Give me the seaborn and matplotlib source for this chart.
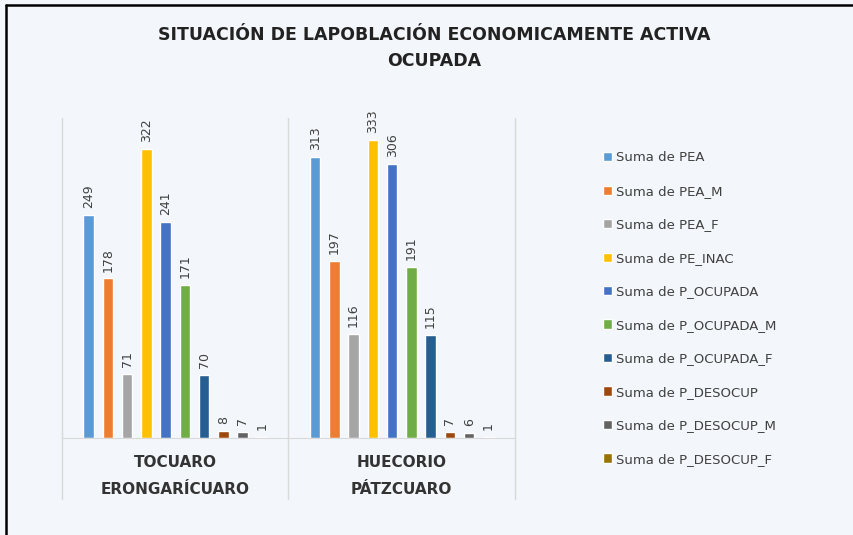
import pandas as pd
import numpy as np
import matplotlib as mpl
mpl.use('Agg')
import matplotlib.pyplot as plt
import seaborn as sns
from matplotlib.lines import Line2D

# datos
localidades = ['TOCUARO\nERONGARÍCUARO', 'HUECORIO\nPÁTZCUARO']
series = ['Suma de PEA', 'Suma de PEA_M', 'Suma de PEA_F', 'Suma de PE_INAC',
          'Suma de P_OCUPADA', 'Suma de P_OCUPADA_M', 'Suma de P_OCUPADA_F',
          'Suma de P_DESOCUP', 'Suma de P_DESOCUP_M', 'Suma de P_DESOCUP_F']
tocuaro = [249, 178, 71, 322, 241, 171, 70, 8, 7, 1]
huecorio = [313, 197, 116, 333, 306, 191, 115, 7, 6, 1]
colores = ['#5B9BD5', '#ED7D31', '#A5A5A5', '#FFC000', '#4472C4',
           '#70AD47', '#255E91', '#9E480E', '#636363', '#997300']

df = pd.DataFrame({
    'localidad': [localidades[0]] * len(series) + [localidades[1]] * len(series),
    'serie': series + series,
    'valor': tocuaro + huecorio,
})

fondo = '#f3f6fa'
sns.set_style('white')
plt.rcParams['font.family'] = ['DejaVu Sans']

fig = plt.figure(figsize=(8.54, 5.35), dpi=100)
fig.patch.set_facecolor(fondo)
ax = fig.add_axes([62 / 854, 1 - 438 / 535, (515 - 62) / 854, 320 / 535])
ax.set_facecolor(fondo)

sns.barplot(data=df, x='localidad', y='valor', hue='serie', palette=colores,
            order=localidades, hue_order=series, width=0.85, gap=0.45,
            saturation=1, ax=ax)

for c in ax.containers:
    ax.bar_label(c, fmt='{:.0f}', rotation=90, padding=5, fontsize=9,
                 color='#404040')

ax.set_ylim(0, 357)
ax.set_xlim(-0.5, 1.5)
ax.set_yticks([])
ax.set_xlabel('')
ax.set_ylabel('')
for s in ['top', 'left', 'right']:
    ax.spines[s].set_visible(False)
ax.spines['bottom'].set_color('#d9d9d9')
ax.tick_params(axis='x', length=0, pad=12)
ax.set_xticks([0, 1])
ax.set_xticklabels(localidades, fontsize=11, fontweight='bold',
                   color='#333333', linespacing=2.0)

# separadores de categorias
for xv in [-0.5, 0.5, 1.5]:
    ax.plot([xv, xv], [-0.19, 1.0], transform=ax.get_xaxis_transform(),
            color='#d9d9d9', lw=1, clip_on=False)

handles, labels = ax.get_legend_handles_labels()
ax.legend_.remove()
fig.legend(handles, labels, loc='center left', bbox_to_anchor=(603 / 854, 1 - 308.5 / 535),
           frameon=False, fontsize=9.5, labelcolor='#404040', handlelength=0.7,
           handleheight=0.7, handletextpad=0.3, labelspacing=1.55,
           borderpad=0, borderaxespad=0)

fig.text(434 / 854, 1 - 48 / 535,
         'SITUACIÓN DE LAPOBLACIÓN ECONOMICAMENTE ACTIVA\nOCUPADA',
         ha='center', va='center', fontsize=12.5, fontweight='bold',
         color='#222222', linespacing=1.5)

# marco
fig.add_artist(Line2D([6 / 854, 6 / 854], [0, 1 - 5 / 535], color='black', lw=1.8))
fig.add_artist(Line2D([6 / 854, 0.999], [1 - 5 / 535, 1 - 5 / 535], color='black', lw=1.8))

plt.savefig('out.png', dpi=100, facecolor=fondo)
